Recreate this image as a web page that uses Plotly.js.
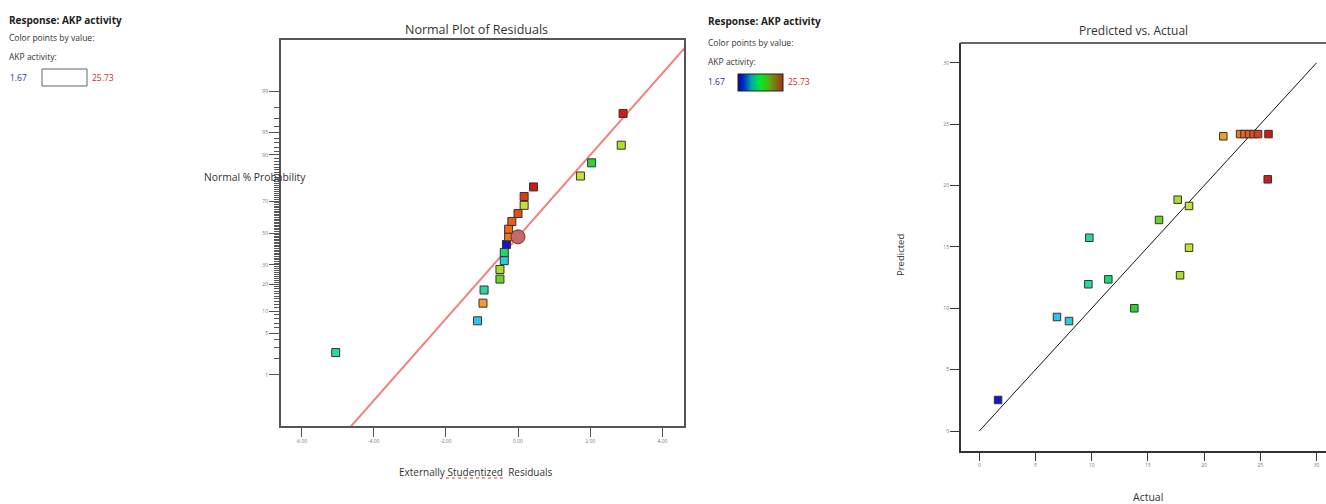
<!DOCTYPE html>
<html>
<head>
<meta charset="utf-8">
<script src="https://cdn.plot.ly/plotly-3.0.1.min.js"></script>
<style>html,body{margin:0;padding:0;background:#fff;}#chart{width:1326px;height:504px;}</style>
</head>
<body>
<div id="chart"></div>
<script>
// ---------- data ----------
// Normal plot of residuals (sorted externally studentized residuals)
const residuals = [-5.05, -1.12, -0.97, -0.94, -0.50, -0.50, -0.38, -0.38, -0.32, -0.26, -0.26, -0.17, 0.00, 0.17, 0.17, 0.43, 1.73, 2.04, 2.86, 2.91];
const normalProbPct = [2.5, 7.5, 12.5, 17.5, 22.5, 27.5, 32.5, 37.5, 42.5, 47.5, 52.5, 57.5, 62.5, 67.5, 72.5, 77.5, 82.5, 87.5, 92.5, 97.5];
const residualAKP = [9.79, 6.91, 21.71, 9.70, 15.99, 17.65, 7.98, 11.48, 1.67, 23.2, 23.6, 24.0, 24.4, 18.66, 24.8, 25.73, 18.66, 13.79, 17.86, 25.66];
const highlightResidual = [0.00];
const highlightPct = [47.5];
const refLineSlope = 0.671;      // z per unit residual
const refLineIntercept = -0.065;
const refLineX = [-7, 5];
const probTicks = [1, 5, 10, 20, 30, 50, 70, 80, 90, 95, 99];
const probTickLabels = ["1", "5", "10", "20", "30", "50", "70", "", "90", "95", "99"]; // "80" is hidden under the axis title
const probMinorPct = [];
for (let p = 1; p <= 99; p++) probMinorPct.push(p);
const residTicks = [-6, -4, -2, 0, 2, 4];

// Predicted vs. Actual
const actual    = [1.67, 6.91, 7.98, 9.70, 9.79, 11.48, 13.79, 15.99, 17.65, 17.86, 18.66, 18.66, 21.71, 23.2, 23.6, 24.0, 24.4, 24.8, 25.73, 25.66];
const predicted = [2.53, 9.29, 8.96, 11.96, 15.75, 12.36, 10.00, 17.20, 18.85, 12.69, 18.34, 14.94, 24.02, 24.2, 24.2, 24.2, 24.2, 24.2, 24.2, 20.51];
const diagLine = [0, 30];
const pvaTicks = [0, 5, 10, 15, 20, 25, 30];

const akpMin = 1.67, akpMax = 25.73;

// ---------- helpers ----------
function probit(p) { // inverse standard normal CDF (Acklam)
  const a=[-3.969683028665376e+01,2.209460984245205e+02,-2.759285104469687e+02,1.383577518672690e+02,-3.066479806614716e+01,2.506628277459239e+00];
  const b=[-5.447609879822406e+01,1.615858368580409e+02,-1.556989798598866e+02,6.680131188771972e+01,-1.328068155288572e+01];
  const c=[-7.784894002430293e-03,-3.223964580411365e-01,-2.400758277161838e+00,-2.549732539343734e+00,4.374664141464968e+00,2.938163982698783e+00];
  const d=[7.784695709041462e-03,3.224671290700398e-01,2.445134137142996e+00,3.754408661907416e+00];
  const pl=0.02425, ph=1-pl; let q,r;
  if (p<pl){q=Math.sqrt(-2*Math.log(p));return (((((c[0]*q+c[1])*q+c[2])*q+c[3])*q+c[4])*q+c[5])/((((d[0]*q+d[1])*q+d[2])*q+d[3])*q+1);}
  if (p<=ph){q=p-0.5;r=q*q;return (((((a[0]*r+a[1])*r+a[2])*r+a[3])*r+a[4])*r+a[5])*q/(((((b[0]*r+b[1])*r+b[2])*r+b[3])*r+b[4])*r+1);}
  q=Math.sqrt(-2*Math.log(1-p));return -(((((c[0]*q+c[1])*q+c[2])*q+c[3])*q+c[4])*q+c[5])/((((d[0]*q+d[1])*q+d[2])*q+d[3])*q+1);
}
const zOf = pct => probit(pct/100);
const W = 1326, H = 504;
const px = x => x / W, py = y => 1 - y / H;

const colorscale = [
  [0, 'rgb(20,20,200)'], [0.22, 'rgb(50,195,240)'], [0.33, 'rgb(40,215,170)'],
  [0.45, 'rgb(30,215,80)'], [0.55, 'rgb(60,205,30)'], [0.67, 'rgb(175,222,40)'],
  [0.72, 'rgb(215,225,55)'], [0.83, 'rgb(240,160,40)'], [0.92, 'rgb(235,100,30)'], [1, 'rgb(205,25,25)']
];
const legendScale = [
  [0, 'rgb(10,10,150)'], [0.12, 'rgb(0,40,200)'], [0.3, 'rgb(0,170,170)'],
  [0.5, 'rgb(0,235,40)'], [0.7, 'rgb(90,170,20)'], [1, 'rgb(175,45,15)']
];

const FONT = 'Open Sans, Noto Sans, sans-serif';
const tickFont = {family: FONT, size: 5, color: '#777'};

// ---------- traces ----------
const traces = [
  { // reference line
    x: refLineX, y: refLineX.map(v => refLineSlope * v + refLineIntercept),
    mode: 'lines', line: {color: 'rgb(240,130,125)', width: 2},
    xaxis: 'x', yaxis: 'y', hoverinfo: 'skip', showlegend: false
  },
  {
    x: residuals, y: normalProbPct.map(zOf), mode: 'markers',
    marker: {symbol: 'square', size: 8, color: residualAKP, cmin: akpMin, cmax: akpMax,
             colorscale: colorscale, line: {color: '#333', width: 1}},
    xaxis: 'x', yaxis: 'y', showlegend: false
  },
  {
    x: highlightResidual, y: highlightPct.map(zOf), mode: 'markers',
    marker: {symbol: 'circle', size: 14, color: 'rgb(195,105,105)', line: {color: '#6a3030', width: 1}},
    xaxis: 'x', yaxis: 'y', showlegend: false
  },
  {
    x: diagLine, y: diagLine, mode: 'lines', line: {color: '#111', width: 1},
    xaxis: 'x2', yaxis: 'y2', hoverinfo: 'skip', showlegend: false
  },
  { // invisible copy, only to carry the legend colour bar
    x: actual, y: predicted, mode: 'markers',
    marker: {size: 1, opacity: 0, color: actual, cmin: akpMin, cmax: akpMax,
             colorscale: legendScale, showscale: true,
             colorbar: {orientation: 'h', x: px(738), xanchor: 'left', y: py(74), yanchor: 'top',
                        len: 45, lenmode: 'pixels', thickness: 17, thicknessmode: 'pixels',
                        showticklabels: false, ticks: '', outlinewidth: 1, outlinecolor: '#222',
                        xpad: 0, ypad: 0, borderwidth: 0}},
    xaxis: 'x2', yaxis: 'y2', hoverinfo: 'skip', showlegend: false
  },
  {
    x: actual, y: predicted, mode: 'markers',
    marker: {symbol: 'square', size: 7.5, color: actual, cmin: akpMin, cmax: akpMax,
             colorscale: colorscale, line: {color: '#333', width: 1}, showscale: false},
    xaxis: 'x2', yaxis: 'y2', showlegend: false
  }
];

// ---------- layout ----------
const frame = {showline: true, linecolor: '#555', linewidth: 1.5, zeroline: false, showgrid: false};

const layout = {
  width: W, height: H, margin: {l: 0, r: 0, t: 0, b: 0},
  paper_bgcolor: '#fff', plot_bgcolor: '#fff', showlegend: false,
  font: {family: FONT, color: '#333'},
  xaxis: Object.assign({}, frame, {
    mirror: true,
    domain: [px(280.5), px(684)], range: [(280.5 - 518) / 36.1, (684 - 518) / 36.1],
    tickmode: 'array', tickvals: residTicks, ticktext: residTicks.map(v => v.toFixed(2)),
    ticks: 'outside', ticklen: 9, tickcolor: '#555', tickfont: tickFont, anchor: 'y'
  }),
  yaxis: Object.assign({}, frame, {
    mirror: true,
    domain: [py(426), py(39.5)], range: [(233 - 426) / 61, (233 - 39.5) / 61],
    tickmode: 'array', tickvals: probTicks.map(zOf), ticktext: probTickLabels,
    ticks: 'outside', ticklen: 10, tickcolor: '#555', tickfont: tickFont, anchor: 'x',
    minor: {tickvals: probMinorPct.map(zOf), ticks: 'outside', ticklen: 5, tickcolor: '#555', tickwidth: 1}
  }),
  xaxis2: Object.assign({}, frame, {
    domain: [px(960.5), 1], range: [(960.5 - 979.3) / 11.24, (1326 - 979.3) / 11.24],
    tickmode: 'array', tickvals: pvaTicks, ticktext: pvaTicks.map(String),
    ticks: 'outside', ticklen: 8, tickcolor: '#333', linecolor: '#333', tickfont: tickFont, anchor: 'y2'
  }),
  yaxis2: Object.assign({}, frame, {
    domain: [py(451), py(43)], range: [(431 - 451) / 12.27, (431 - 43) / 12.27],
    tickmode: 'array', tickvals: pvaTicks, ticktext: pvaTicks.map(String),
    ticks: 'outside', ticklen: 9, tickcolor: '#333', linecolor: '#333', tickfont: tickFont, anchor: 'x2'
  }),
  shapes: [
    {type: 'line', xref: 'x2 domain', yref: 'y2 domain', x0: 0, x1: 1, y0: 1, y1: 1,
     line: {color: '#333', width: 1.5}},
    {type: 'rect', xref: 'paper', yref: 'paper', x0: px(42), x1: px(87), y0: py(86), y1: py(69),
     line: {color: '#666', width: 1}, fillcolor: '#fff'},
    {type: 'line', xref: 'paper', yref: 'paper', x0: px(446), x1: px(503), y0: py(478), y1: py(478),
     line: {color: 'rgb(220,60,60)', width: 1, dash: 'dot'}}
  ],
  annotations: []
};

function txt(text, x, y, opts) {
  layout.annotations.push(Object.assign({
    text: text, xref: 'paper', yref: 'paper', x: px(x), y: py(y),
    xanchor: 'left', yanchor: 'middle', showarrow: false,
    font: {family: FONT, size: 8.5, color: '#333'}
  }, opts || {}));
}
// left legend
txt('<b>Response: AKP activity</b>', 7, 20, {font: {family: FONT, size: 10, color: '#222'}});
txt('Color points by value:', 7, 38);
txt('AKP activity:', 7, 56);
txt('1.67', 8, 77, {font: {family: FONT, size: 8.5, color: '#2a2aa0'}});
txt('25.73', 90, 77, {font: {family: FONT, size: 8.5, color: '#c03030'}});
// right legend
txt('<b>Response: AKP activity</b>', 706, 21, {font: {family: FONT, size: 10, color: '#222'}});
txt('Color points by value:', 706, 42);
txt('AKP activity:', 706, 61);
txt('1.67', 706, 82, {font: {family: FONT, size: 8.5, color: '#2a2aa0'}});
txt('25.73', 786, 82, {font: {family: FONT, size: 8.5, color: '#c03030'}});
// titles
txt('Normal Plot of Residuals', 476, 29, {xanchor: 'center', font: {family: FONT, size: 12.5, color: '#333'}});
txt('Predicted vs. Actual', 1133, 30, {xanchor: 'center', font: {family: FONT, size: 12, color: '#333'}});
// axis titles
txt('Normal % Probability', 255, 177, {xanchor: 'center', font: {family: FONT, size: 10.3, color: '#333'}});
txt('Externally Studentized  Residuals', 476, 472, {xanchor: 'center', font: {family: FONT, size: 10, color: '#333'}});
txt('Actual', 1148, 497, {xanchor: 'center', font: {family: FONT, size: 10.5, color: '#333'}});
txt('Predicted', 900, 255, {xanchor: 'center', textangle: -90, font: {family: FONT, size: 9.5, color: '#333'}});

Plotly.newPlot('chart', traces, layout, {displayModeBar: false, staticPlot: true});
</script>
</body>
</html>
